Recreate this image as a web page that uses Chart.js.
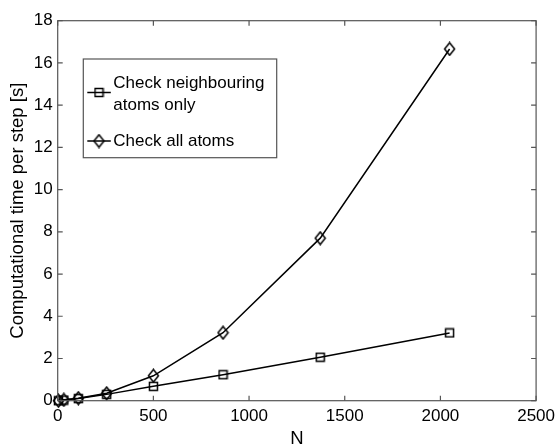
<!DOCTYPE html>
<html>
<head>
<meta charset="utf-8">
<script src="https://cdn.jsdelivr.net/npm/chart.js@4/dist/chart.umd.min.js"></script>
<style>
  html, body { margin: 0; padding: 0; background: #fff; }
</style>
</head>
<body>
<canvas id="chart" width="560" height="446"></canvas>
<script>
// number of atoms (4 n^3, fcc)
const nAtoms = [4, 32, 108, 256, 500, 864, 1372, 2048];
// seconds per step
const neighbourTime = [0.0, 0.03, 0.1, 0.3, 0.68, 1.23, 2.06, 3.21];
const allTime = [0.0, 0.04, 0.12, 0.35, 1.18, 3.22, 7.7, 16.66];

const seriesNames = ['Check neighbouring atoms only', 'Check all atoms'];
const legendLines = [['Check neighbouring', 'atoms only'], ['Check all atoms']];

const FONT = 'Liberation Sans, Arial, sans-serif';

function squareMarker() {
    const c = document.createElement('canvas');
    c.width = 11; c.height = 11;
    const g = c.getContext('2d');
    g.strokeStyle = '#000';
    g.lineWidth = 1.5;
    g.strokeRect(1.5, 1.5, 8, 8);
    return c;
}

function diamondMarker() {
    const c = document.createElement('canvas');
    c.width = 13; c.height = 15;
    const g = c.getContext('2d');
    g.strokeStyle = '#000';
    g.lineWidth = 1.5;
    g.beginPath();
    g.moveTo(6.5, 1.2);
    g.lineTo(11.5, 7.5);
    g.lineTo(6.5, 13.8);
    g.lineTo(1.5, 7.5);
    g.closePath();
    g.stroke();
    return c;
}

const markers = [squareMarker(), diamondMarker()];

function toPoints(xs, ys) {
    return xs.map((x, i) => ({ x: x, y: ys[i] }));
}

// inward ticks and box round the axes
const framePlugin = {
    id: 'frame',
    afterDatasetsDraw(chart) {
        const { ctx, chartArea: a, scales } = chart;
        ctx.save();
        ctx.strokeStyle = '#555';
        ctx.lineWidth = 1.2;
        ctx.strokeRect(a.left, a.top, a.width, a.height);
        ctx.beginPath();
        scales.x.ticks.forEach(t => {
            const px = scales.x.getPixelForValue(t.value);
            ctx.moveTo(px, a.bottom); ctx.lineTo(px, a.bottom - 5);
            ctx.moveTo(px, a.top); ctx.lineTo(px, a.top + 5);
        });
        scales.y.ticks.forEach(t => {
            const py = scales.y.getPixelForValue(t.value);
            ctx.moveTo(a.left, py); ctx.lineTo(a.left + 5, py);
            ctx.moveTo(a.right, py); ctx.lineTo(a.right - 5, py);
        });
        ctx.stroke();
        ctx.restore();
    }
};

// MATLAB-like legend box with wrapped first entry
const legendPlugin = {
    id: 'boxLegend',
    afterDraw(chart) {
        const { ctx, chartArea: a } = chart;
        const bx = a.left + 25.6, by = a.top + 38.3, bw = 193.4, bh = 98.7;
        ctx.save();
        ctx.fillStyle = '#fff';
        ctx.fillRect(bx, by, bw, bh);
        ctx.strokeStyle = '#555';
        ctx.lineWidth = 1.2;
        ctx.strokeRect(bx, by, bw, bh);

        const rows = [
            { marker: by + 33.5, text: [by + 24.5, by + 46.5] },
            { marker: by + 82, text: [by + 82] }
        ];
        ctx.font = '17px ' + FONT;
        ctx.fillStyle = '#000';
        ctx.textBaseline = 'middle';
        rows.forEach((r, i) => {
            ctx.strokeStyle = '#000';
            ctx.lineWidth = 1.5;
            ctx.beginPath();
            ctx.moveTo(bx + 4, r.marker);
            ctx.lineTo(bx + 27.5, r.marker);
            ctx.stroke();
            const m = markers[i];
            ctx.drawImage(m, bx + 15.7 - m.width / 2, r.marker - m.height / 2);
            legendLines[i].forEach((line, j) => {
                ctx.fillText(line, bx + 30, r.text[j]);
            });
        });
        ctx.restore();
    }
};

new Chart(document.getElementById('chart'), {
    type: 'line',
    data: {
        datasets: [{
            label: seriesNames[0],
            data: toPoints(nAtoms, neighbourTime),
            borderColor: '#000',
            borderWidth: 1.5,
            pointStyle: markers[0],
            clip: false
        }, {
            label: seriesNames[1],
            data: toPoints(nAtoms, allTime),
            borderColor: '#000',
            borderWidth: 1.5,
            pointStyle: markers[1],
            clip: false
        }]
    },
    options: {
        responsive: false,
        animation: false,
        layout: { padding: { left: 0, right: 20, top: 20.7, bottom: 0 } },
        plugins: {
            legend: { display: false },
            tooltip: { enabled: false }
        },
        scales: {
            x: {
                type: 'linear',
                min: 0,
                max: 2500,
                ticks: { stepSize: 500, padding: 5, color: '#000', font: { family: FONT, size: 17 }, maxRotation: 0, callback: v => String(v) },
                grid: { display: false, drawTicks: false },
                border: { display: false },
                title: { display: true, text: 'N', color: '#000', font: { family: FONT, size: 18.5, lineHeight: 0.8 }, padding: 0 },
                afterFit(s) { s.height = 45.3; }
            },
            y: {
                min: 0,
                max: 18,
                ticks: { stepSize: 2, padding: 5, color: '#000', font: { family: FONT, size: 17 }, callback: v => String(v) },
                grid: { display: false, drawTicks: false },
                border: { display: false },
                title: { display: true, text: 'Computational time per step [s]', color: '#000', font: { family: FONT, size: 18.5 }, padding: { top: 7, bottom: 0 } },
                afterFit(s) { s.width = 57.7; }
            }
        }
    },
    plugins: [framePlugin, legendPlugin]
});
</script>
</body>
</html>
